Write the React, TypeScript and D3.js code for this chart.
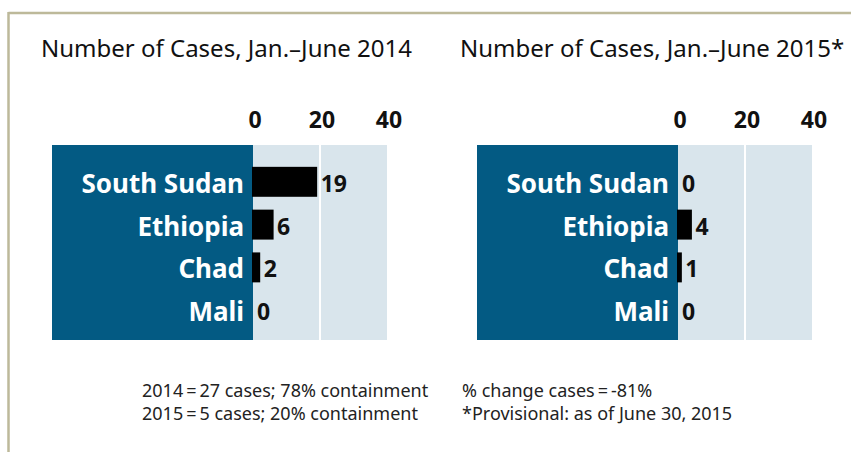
import React from "react";
import * as d3 from "d3";

const countries = ["South Sudan", "Ethiopia", "Chad", "Mali"];
const cases2014 = [19, 6, 2, 0];
const cases2015 = [0, 4, 1, 0];
const tickValues = [0, 20, 40];
const titles = ["Number of Cases, Jan.\u2013June 2014", "Number of Cases, Jan.\u2013June 2015*"];
const notes2014 = ["2014\u2009=\u200927 cases; 78% containment", "2015\u2009=\u20095 cases; 20% containment"];
const notes2015 = ["% change cases\u2009=\u2009-81%", "*Provisional: as of June 30, 2015"];

const FONT = "'Noto Sans', 'Open Sans', sans-serif";
const DARK = "#035a83";
const LIGHT = "#d9e5ec";

const Panel = ({ left, title, titleX, values, notes, noteX }) => {
  const zeroX = left + 201;
  const x = d3.scaleLinear().domain([0, 40]).range([zeroX, zeroX + 134]);
  const y = d3.scaleBand().domain(countries).range([154, 338]).padding(0.3);

  return (
    <g>
      <text x={titleX} y={57} fontSize={24} fontFamily={FONT} fill="#111">
        {title}
      </text>
      {tickValues.map((t) => (
        <text
          key={t}
          x={x(t) + 2}
          y={128}
          textAnchor="middle"
          fontSize={23}
          fontWeight="bold"
          fontFamily={FONT}
          fill="#111"
        >
          {t}
        </text>
      ))}
      <rect x={left} y={145} width={zeroX - left} height={195} fill={DARK} />
      <rect x={zeroX} y={145} width={x(40) - zeroX} height={195} fill={LIGHT} />
      <line x1={x(20)} x2={x(20)} y1={145} y2={340} stroke="#fff" strokeWidth={2} />
      {countries.map((c, i) => {
        const cy = y(c) + y.bandwidth() / 2;
        return (
          <g key={c}>
            <text
              x={zeroX - 9}
              y={cy + 11}
              textAnchor="end"
              fontSize={26}
              fontWeight="bold"
              fontFamily={FONT}
              fill="#fff"
            >
              {c}
            </text>
            {values[i] > 0 && (
              <rect
                x={x(0) - 1}
                y={y(c)}
                width={x(values[i]) - x(0) + 1.5}
                height={y.bandwidth()}
                fill="#000"
              />
            )}
            <text
              x={x(values[i]) + 4}
              y={cy + 10}
              fontSize={23}
              fontWeight="bold"
              fontFamily={FONT}
              fill="#111"
            >
              {values[i]}
            </text>
          </g>
        );
      })}
      {notes.map((n, i) => (
        <text key={n} x={noteX} y={397 + i * 23} fontSize={18} fontFamily={FONT} fill="#222">
          {n}
        </text>
      ))}
    </g>
  );
};

export default function App() {
  return (
    <svg
      width={851}
      height={452}
      style={{ position: "absolute", left: 0, top: 0, background: "#fff" }}
    >
      <rect x={0} y={0} width={851} height={452} fill="#fff" />
      <line x1={8.5} x2={851} y1={13} y2={13} stroke="#bdb99a" strokeWidth={2.5} />
      <line x1={8.5} x2={8.5} y1={12} y2={452} stroke="#bdb99a" strokeWidth={2.5} />
      <Panel left={52} title={titles[0]} titleX={41} values={cases2014} notes={notes2014} noteX={142} />
      <Panel left={477} title={titles[1]} titleX={460} values={cases2015} notes={notes2015} noteX={462} />
    </svg>
  );
}
